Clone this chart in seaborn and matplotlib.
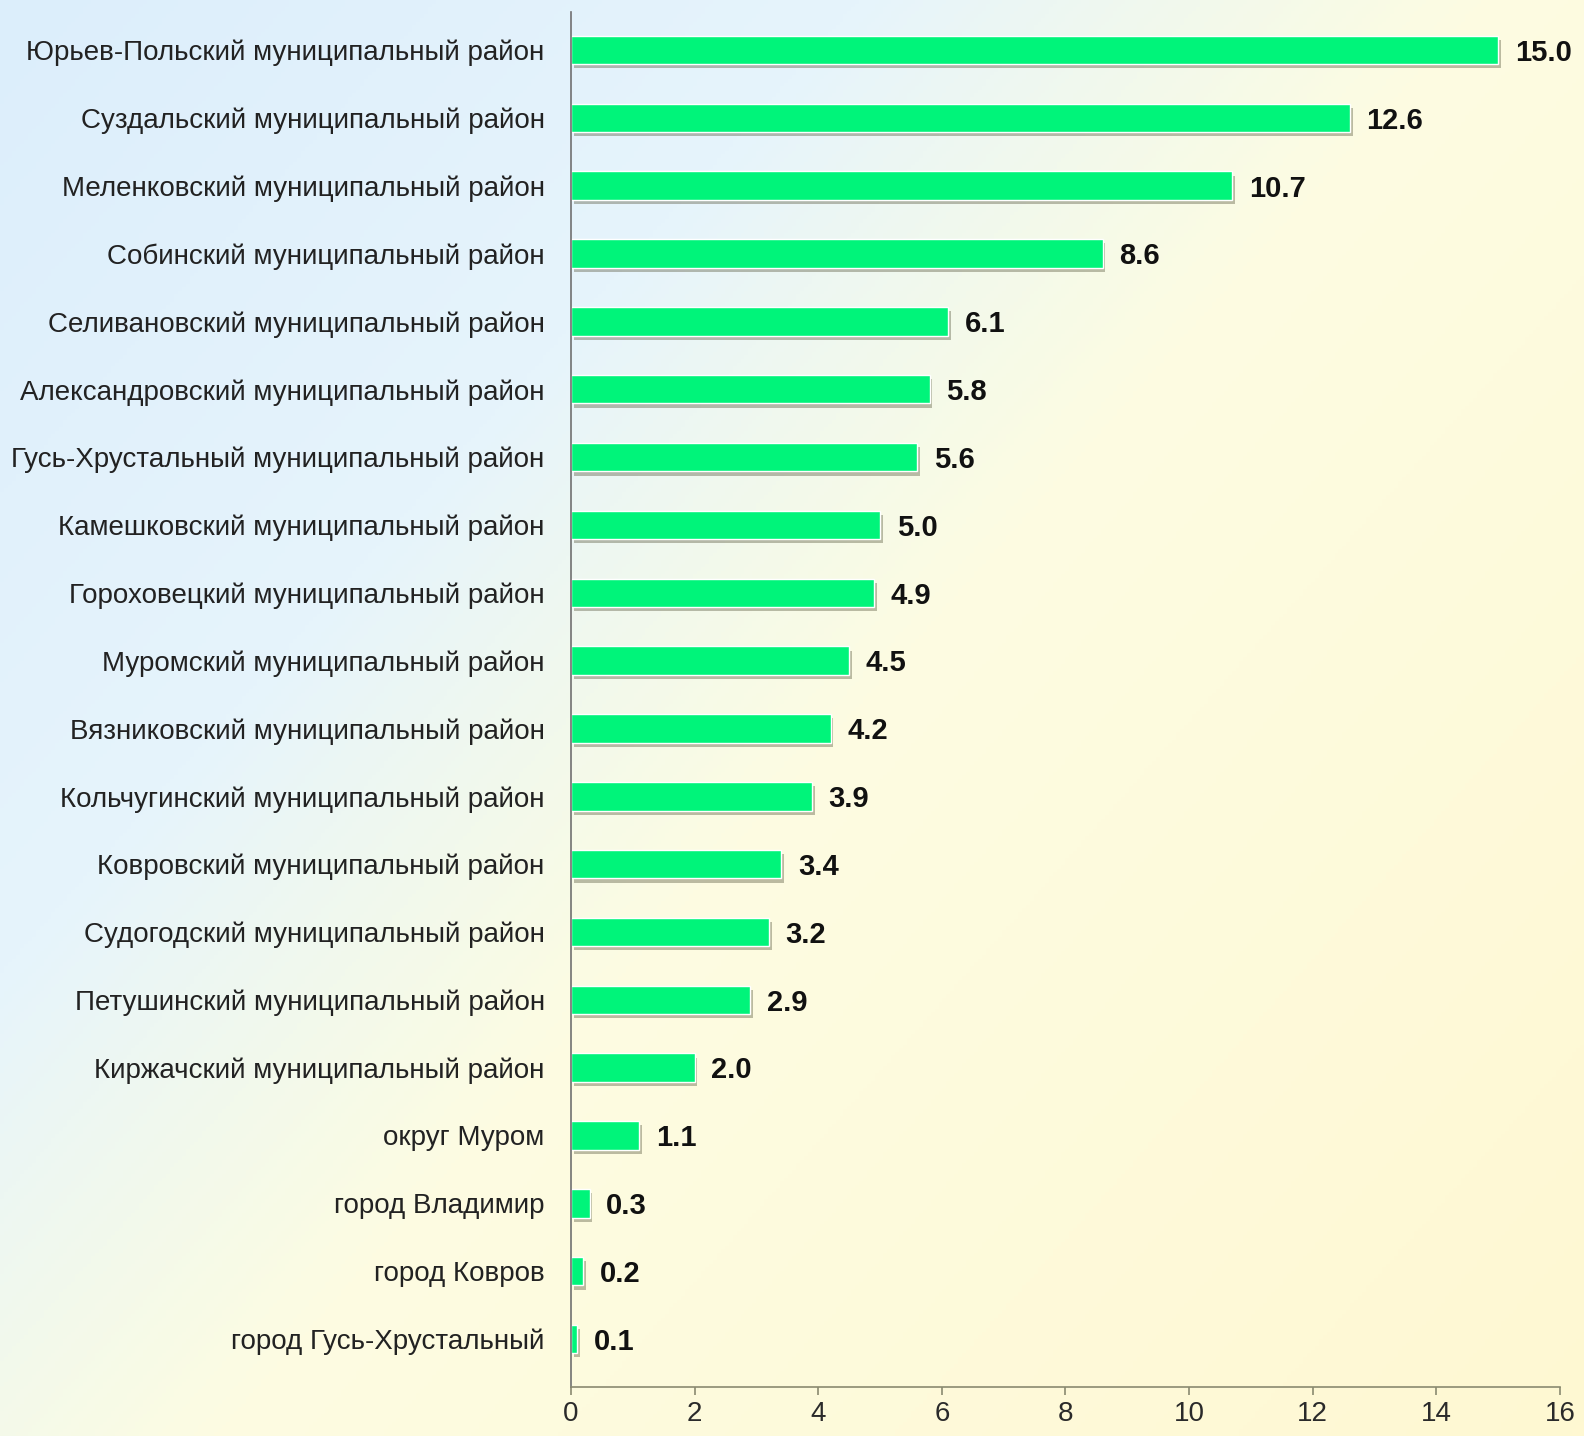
import numpy as np
import pandas as pd
import seaborn as sns
import matplotlib.pyplot as plt
import matplotlib.patheffects as pe
from matplotlib.colors import LinearSegmentedColormap

districts = [
    'Юрьев-Польский муниципальный район',
    'Суздальский муниципальный район',
    'Меленковский муниципальный район',
    'Собинский муниципальный район',
    'Селивановский муниципальный район',
    'Александровский муниципальный район',
    'Гусь-Хрустальный муниципальный район',
    'Камешковский муниципальный район',
    'Гороховецкий муниципальный район',
    'Муромский муниципальный район',
    'Вязниковский муниципальный район',
    'Кольчугинский муниципальный район',
    'Ковровский муниципальный район',
    'Судогодский муниципальный район',
    'Петушинский муниципальный район',
    'Киржачский муниципальный район',
    'округ Муром',
    'город Владимир',
    'город Ковров',
    'город Гусь-Хрустальный',
]
values = [15.0, 12.6, 10.7, 8.6, 6.1, 5.8, 5.6, 5.0, 4.9, 4.5,
          4.2, 3.9, 3.4, 3.2, 2.9, 2.0, 1.1, 0.3, 0.2, 0.1]
x_ticks = [0, 2, 4, 6, 8, 10, 12, 14, 16]

df = pd.DataFrame({'district': districts, 'value': values})

sns.set_style('white')
plt.rcParams['font.family'] = ['Liberation Sans', 'DejaVu Sans']

fig = plt.figure(figsize=(15.84, 14.36), dpi=100)

# background: light blue along top/left, cream towards bottom-right
bg = fig.add_axes([0, 0, 1, 1], zorder=-10)
gx, gy = np.meshgrid(np.linspace(0, 1, 400), np.linspace(0, 1, 400))
t = np.clip((gx + gy * 0.8) / 1.8, 0, 1)
cmap = LinearSegmentedColormap.from_list('bg', [
    (0.0, '#DCEEFB'), (0.30, '#E6F4FC'), (0.42, '#F2F9EC'),
    (0.52, '#FDFCE2'), (1.0, '#FFF8D2')])
bg.imshow(t, cmap=cmap, vmin=0, vmax=1, aspect='auto', extent=[0, 1, 1, 0])
bg.axis('off')

ax = fig.add_axes([0.3605, 0.034, 0.6243, 0.9576])
ax.patch.set_alpha(0)

sns.barplot(data=df, x='value', y='district', orient='h', color='#00F47A',
            width=0.42, saturation=1, ax=ax)

for bar in ax.patches:
    bar.set_path_effects([
        pe.SimplePatchShadow(offset=(2, -3), shadow_rgbFace='#5a5a40', alpha=0.4),
        pe.Normal(),
    ])

for i, v in enumerate(values):
    ax.annotate(f'{v:.1f}', xy=(v, i), xytext=(12, -2), textcoords='offset points',
                va='center', ha='left', fontsize=21, fontweight='bold', color='#111111')

ax.set_xlim(0, 16)
ax.set_ylim(19.71, -0.56)
ax.set_xticks(x_ticks)
ax.set_xticklabels([str(x) for x in x_ticks])
ax.set_xlabel('')
ax.set_ylabel('')

for s in ['top', 'right']:
    ax.spines[s].set_visible(False)
ax.spines['left'].set_color('#707070')
ax.spines['bottom'].set_color('#8a8a70')
ax.spines['left'].set_linewidth(1.2)
ax.spines['bottom'].set_linewidth(1.2)

ax.tick_params(axis='x', direction='out', length=6, width=1.2, color='#8a8a70',
               labelsize=20, labelcolor='#2a2a2a', pad=4, bottom=True)
ax.tick_params(axis='y', length=0, labelsize=20, labelcolor='#222222', pad=19)

fig.savefig('out.png', dpi=100)
